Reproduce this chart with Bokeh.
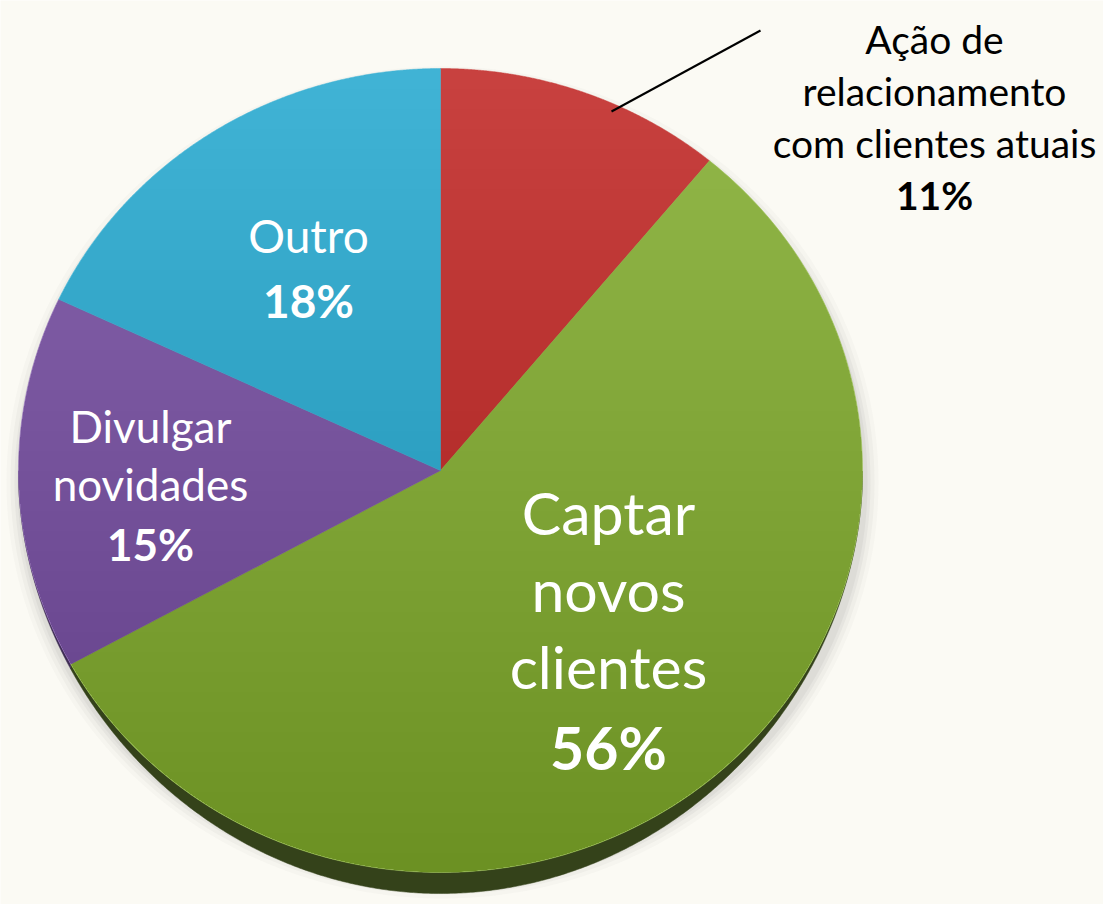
import numpy as np
from bokeh.plotting import figure
from bokeh.models import Range1d
from bokeh.core.properties import value
from bokeh.embed import file_html
from bokeh.resources import INLINE

# ---- data ----
categories = ["Ação de relacionamento com clientes atuais", "Captar novos clientes",
              "Divulgar novidades", "Outro"]
shares = [11, 56, 15, 18]
pct_labels = ["11%", "56%", "15%", "18%"]
top_colors = ["#C8413F", "#93B84A", "#8865AE", "#40B3D5"]
side_colors = ["#5E1F1D", "#34421A", "#3F2D55", "#1F5566"]

# ---- geometry (pixel-like data space) ----
W, H = 1103, 904
cx, cy, a, b = 440.0, 470.0, 422.0, 402.0
D = 21.0

p = figure(width=W, height=H, x_range=Range1d(0, W), y_range=Range1d(H, 0),
           output_backend="svg", toolbar_location=None, min_border=0)
p.axis.visible = False
p.grid.visible = False
p.outline_line_color = None
p.background_fill_color = "#FBFAF4"
p.border_fill_color = "#FBFAF4"

def ell(phi, dy=0.0):
    return cx + a * np.cos(phi), cy - b * np.sin(phi) + dy

# soft shadow
for s, al in [(14, 0.03), (10, 0.04), (6, 0.05), (3, 0.06)]:
    t = np.linspace(0, 2 * np.pi, 400)
    p.patch(cx + 2 + (a + s) * np.cos(t), cy + 12 + (b + s) * np.sin(t),
            fill_color="#555555", fill_alpha=al, line_color=None)

frac = np.array(shares, dtype=float) / sum(shares)
cum = np.concatenate([[0], np.cumsum(frac)])
phis_start = np.pi / 2 - 2 * np.pi * cum[:-1]
phis_end = np.pi / 2 - 2 * np.pi * cum[1:]

# 3D side
for i in range(len(shares)):
    ph = np.linspace(phis_start[i], phis_end[i], 600)
    m = np.sin(ph) < 0
    if m.sum() < 2:
        continue
    ph = ph[m]
    x1, y1 = ell(ph)
    dep = D * np.sin(ph) ** 2
    x2, y2 = ell(ph[::-1], dep[::-1])
    p.patch(np.concatenate([x1, x2]), np.concatenate([y1, y2]),
            fill_color=side_colors[i], line_color=side_colors[i], line_width=0.5)

# top surface slices
for i in range(len(shares)):
    ph = np.linspace(phis_start[i], phis_end[i], 300)
    x, y = ell(ph)
    p.patch(np.concatenate([[cx], x]), np.concatenate([[cy], y]),
            fill_color=top_colors[i], line_color=top_colors[i], line_width=0.5)

# shading gradient (darker toward bottom)
N = 40
for k in range(1, N + 1):
    c = 1 - 2 * k / N
    c = max(c, -0.999)
    s0 = np.arcsin(c)
    ph = np.linspace(np.pi - s0, 2 * np.pi + s0, 200)
    x, y = ell(ph)
    p.patch(x, y, fill_color="black", fill_alpha=0.005, line_color=None)

# labels
F = value("Lato")
def txt(x, y, t, size, color, bold=False):
    p.text(x=[x], y=[y], text=[t], text_font=F, text_font_size=f"{size}px",
           text_color=color, text_align="center", text_baseline="alphabetic",
           text_font_style="bold" if bold else "normal")

# leader line for the small slice
p.line(x=[611, 760], y=[111, 30], line_color="black", line_width=2)

ann = ["Ação de", "relacionamento", "com clientes atuais"]
for j, t in enumerate(ann):
    txt(934, 38 + 52 * j, t, 39, "black")
txt(934, 194, pct_labels[0], 39, "black", True)

for j, t in enumerate(["Captar", "novos", "clientes"]):
    txt(608, 512 + 77 * j, t, 59, "white")
txt(608, 747, pct_labels[1], 59, "white", True)

for j, t in enumerate(["Divulgar", "novidades"]):
    txt(150, 425 + 58 * j, t, 44, "white")
txt(150, 543, pct_labels[2], 44, "white", True)

txt(308, 235, categories[3], 46, "white")
txt(308, 300, pct_labels[3], 46, "white", True)

open("out.html", "w").write(file_html(p, INLINE))
